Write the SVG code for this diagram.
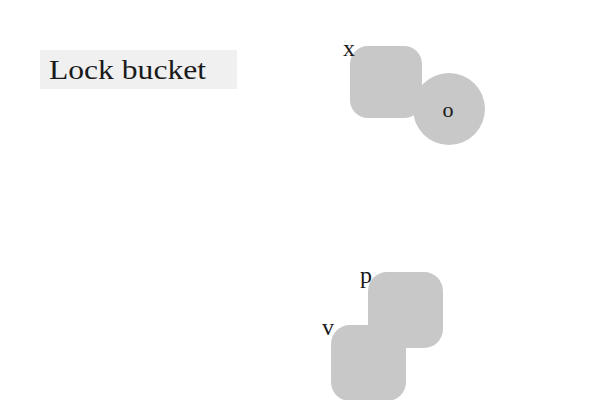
<svg xmlns="http://www.w3.org/2000/svg" width="600" height="400" viewBox="0 0 600 400">
<style>
.shape{fill:#c8c8c8}
.lbl{font-family:"Liberation Serif","DejaVu Serif",serif;fill:#1a1a1a}
</style>
<rect width="600" height="400" fill="#ffffff"/>
<g id="title">
<rect x="40" y="50" width="197" height="39" fill="#f0f0f0"/>
<text class="lbl" x="49" y="79" font-size="28" textLength="157" lengthAdjust="spacingAndGlyphs">Lock bucket</text>
</g>
<g id="connectors"></g>
<g id="node-x">
<rect class="shape" x="350" y="46" width="72" height="72" rx="18"/>
<text class="lbl" x="343" y="56" font-size="24">x</text>
</g>
<g id="node-o">
<circle class="shape" cx="449" cy="109" r="36"/>
<text class="lbl" x="448" y="117" font-size="22" text-anchor="middle">o</text>
</g>
<g id="node-p">
<rect class="shape" x="368" y="272" width="75" height="76" rx="19"/>
<text class="lbl" x="360" y="283" font-size="24">p</text>
</g>
<g id="node-v">
<rect class="shape" x="331" y="325" width="75" height="76" rx="19"/>
<text class="lbl" x="322" y="335" font-size="24">v</text>
</g>
</svg>
